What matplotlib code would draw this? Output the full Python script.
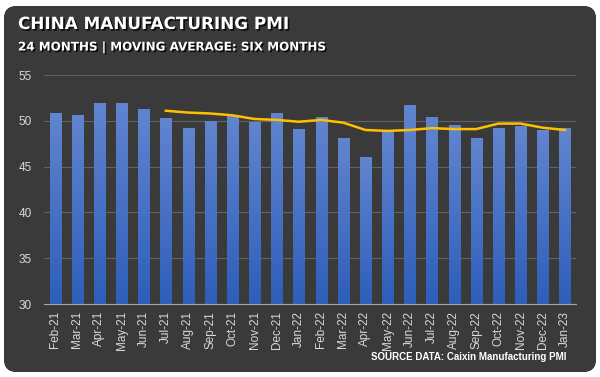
import numpy as np
import matplotlib
matplotlib.use("Agg")
import matplotlib.pyplot as plt
import matplotlib.patches as patches
import matplotlib.patheffects as pe

months = ["Feb-21", "Mar-21", "Apr-21", "May-21", "Jun-21", "Jul-21", "Aug-21", "Sep-21",
          "Oct-21", "Nov-21", "Dec-21", "Jan-22", "Feb-22", "Mar-22", "Apr-22", "May-22",
          "Jun-22", "Jul-22", "Aug-22", "Sep-22", "Oct-22", "Nov-22", "Dec-22", "Jan-23"]
pmi = [50.9, 50.6, 51.9, 52.0, 51.3, 50.3, 49.2, 50.0, 50.6, 49.9, 50.9, 49.1,
       50.4, 48.1, 46.0, 48.9, 51.7, 50.4, 49.5, 48.1, 49.2, 49.4, 49.0, 49.2]
# six month moving average, starts at Jul-21
ma = [None] * 5 + [51.1, 50.9, 50.8, 50.6, 50.2, 50.1, 49.9, 50.1, 49.8, 49.0, 48.9,
                   49.0, 49.2, 49.1, 49.1, 49.7, 49.7, 49.25, 49.0]
yticks = [30, 35, 40, 45, 50, 55]

fig = plt.figure(figsize=(6, 3.77), dpi=100)
fig.patch.set_facecolor("white")

# dark rounded panel with radial gradient
bg = fig.add_axes([0, 0, 1, 1], zorder=0)
bg.set_xlim(0, 600)
bg.set_ylim(377, 0)
bg.axis("off")
panel = patches.FancyBboxPatch((4, 6), 592, 366, boxstyle="round,pad=0,rounding_size=13",
                               facecolor="#3a3a3a", edgecolor="none")
bg.add_patch(panel)
gx, gy = np.meshgrid(np.linspace(0, 600, 300), np.linspace(0, 377, 200))
d = np.sqrt(((gx - 340) / 340) ** 2 + ((gy - 110) / 300) ** 2)
d = np.clip(d, 0, 1)
shade = 0.36 - 0.2 * d
img = np.dstack([shade, shade, shade])
im = bg.imshow(img, extent=(0, 600, 377, 0), aspect="auto", interpolation="bilinear")
im.set_clip_path(panel)

shadow = [pe.withSimplePatchShadow(offset=(1.2, -1.2), shadow_rgbFace="black", alpha=0.8)]
bg.text(18, 24, "CHINA MANUFACTURING PMI", color="white", fontsize=12.1, fontweight="bold",
        family=["DejaVu Sans"], va="center", path_effects=shadow)
bg.text(18, 47, "24 MONTHS | MOVING AVERAGE: SIX MONTHS", color="white", fontsize=8.6,
        fontweight="bold", family=["DejaVu Sans"], va="center", path_effects=shadow)
bg.text(566, 357, "SOURCE DATA: Caixin Manufacturing PMI", color="white", fontsize=7.0,
        fontweight="bold", family=["Liberation Sans Narrow", "Liberation Sans", "DejaVu Sans"],
        va="center", ha="right")

ax = fig.add_axes([0.0733, 0.1936, 0.8867, 0.6074], zorder=1)
ax.patch.set_alpha(0)
x = np.arange(len(months))
bars = ax.bar(x, pmi, width=0.5, color="#4a72c8", zorder=2)
grad = np.linspace(0, 1, 100).reshape(-1, 1)
top_c = np.array([0.38, 0.52, 0.81])
bot_c = np.array([0.18, 0.37, 0.73])
grad_img = top_c * (1 - grad[..., None]) + bot_c * grad[..., None]
grad_img = grad_img.reshape(100, 1, 3)
for b in bars:
    x0, y0 = b.get_x(), b.get_y()
    w, h = b.get_width(), b.get_height()
    g = ax.imshow(grad_img, extent=(x0, x0 + w, 30, y0 + h), aspect="auto", zorder=3,
                  interpolation="bilinear")
    g.set_clip_path(b)

ma_x = [i for i, v in enumerate(ma) if v is not None]
ma_y = [v for v in ma if v is not None]
ax.plot(ma_x, ma_y, color="#ffc000", lw=1.8, zorder=4, solid_joinstyle="round")

ax.set_xlim(-0.5, len(months) - 0.5)
ax.set_ylim(30, 55)
ax.set_yticks(yticks)
ax.set_xticks(x)
ax.set_xticklabels(months, rotation=90)
for lbl in ax.get_xticklabels() + ax.get_yticklabels():
    lbl.set_family(["Liberation Sans", "DejaVu Sans"])
ax.tick_params(axis="both", length=0, colors="#d9d9d9", labelsize=8.5)
ax.tick_params(axis="y", pad=9)
ax.tick_params(axis="x", pad=5)
ax.grid(axis="y", color="#626262", lw=0.8, zorder=1)
for s in ["top", "right", "left"]:
    ax.spines[s].set_visible(False)
ax.spines["bottom"].set_color("#a6a6a6")
ax.spines["bottom"].set_zorder(5)

fig.savefig("out.png", dpi=100, facecolor=fig.get_facecolor())
